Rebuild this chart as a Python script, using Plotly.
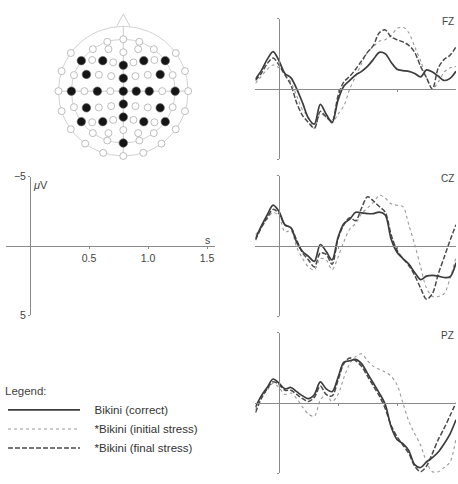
import plotly.graph_objects as go

W, H = 458, 484

# ---------------- data ----------------
time_s = [-0.2, -0.15, -0.1, -0.05, 0.0, 0.05, 0.1, 0.15, 0.2, 0.25, 0.3, 0.35, 0.4, 0.45,
          0.5, 0.55, 0.6, 0.65, 0.7, 0.75, 0.8, 0.85, 0.9, 0.95, 1.0, 1.05, 1.1, 1.15,
          1.2, 1.25, 1.3, 1.35, 1.4, 1.45, 1.5]

fz_correct = [-0.7, -1.3, -2.1, -2.65, -2.0, -1.1, -0.8, 0.0, 1.0, 2.1, 2.5, 1.1, 1.8, 2.4,
              0.8, -0.2, -0.6, -1.0, -1.25, -1.6, -2.1, -2.6, -2.5, -1.9, -1.4, -1.3, -1.25,
              -1.1, -0.85, -1.35, -1.2, -0.9, -0.6, -0.75, -1.25]
fz_initial = [-0.4, -0.9, -1.4, -1.7, -1.5, -1.0, -0.5, 0.5, 1.5, 2.0, 2.8, 1.8, 2.0, 2.4,
              1.8, 1.2, 0.0, -0.9, -1.8, -2.6, -3.0, -3.4, -3.5, -3.8, -4.3, -4.4, -4.0,
              -3.0, -2.0, -0.8, 0.0, -0.5, -1.2, -1.5, -1.6]
fz_final = [-0.6, -1.1, -1.8, -2.2, -1.7, -1.0, -0.3, 1.0, 1.9, 2.4, 2.8, 1.6, 2.0, 2.3,
            0.5, -0.5, -0.9, -1.4, -2.0, -2.6, -3.1, -4.0, -4.2, -3.7, -3.5, -3.35, -3.1,
            -2.6, -1.6, -0.8, 0.0, -1.5, -2.1, -2.4, -3.0]

cz_correct = [-0.5, -1.4, -2.2, -2.9, -2.45, -1.5, -1.3, -0.25, 0.4, 0.75, 1.1, -0.1, 0.4, 1.0,
              -0.6, -1.6, -1.9, -2.4, -2.35, -2.3, -2.3, -2.4, -2.2, -0.5, 0.45, 0.9, 1.3,
              1.9, 2.4, 2.15, 2.1, 2.15, 2.25, 2.2, 1.2]
cz_initial = [-0.8, -1.3, -1.9, -2.4, -2.1, -1.0, -1.1, 0.1, 0.9, 1.5, 1.7, 0.9, 1.0, 1.7,
              0.8, -0.3, -1.2, -1.6, -2.3, -2.7, -3.1, -3.6, -3.4, -3.0, -2.9, -2.8, -1.5,
              -0.1, 1.5, 3.0, 3.6, 3.6, 3.4, 2.3, 0.8]
cz_final = [-0.4, -1.3, -2.0, -2.6, -2.3, -1.5, -1.3, -0.4, 0.5, 1.0, 1.5, 0.5, 0.6, 1.3,
            -0.5, -1.5, -2.0, -1.8, -2.7, -3.5, -3.2, -2.8, -2.4, -0.8, 0.3, 0.9, 1.4,
            2.1, 3.0, 3.8, 3.4, 2.0, 0.8, -0.4, -1.5]

pz_correct = [0.3, -0.5, -1.1, -1.7, -1.4, -1.0, -1.1, -0.8, -0.5, -0.3, -0.6, -1.5, -1.0, -0.8,
              -1.8, -2.9, -3.0, -3.1, -2.8, -2.1, -1.4, -0.7, 0.1, 1.7, 2.6, 2.9, 3.4,
              4.4, 4.6, 4.2, 3.9, 3.5, 2.9, 2.2, 1.2]
pz_initial = [0.5, -0.4, -0.9, -1.4, -1.1, -0.6, -0.7, -0.3, 0.3, 0.8, 0.95, -0.2, -0.6, -0.1,
              -0.6, -1.8, -2.8, -3.3, -3.5, -3.0, -2.6, -2.4, -2.2, -1.9, -1.3, 0.0, 1.3,
              2.2, 3.0, 4.2, 4.9, 4.9, 4.6, 4.2, 2.5]
pz_final = [0.7, -0.3, -1.0, -1.5, -1.3, -0.9, -0.9, -0.6, -0.3, -0.1, -0.4, -1.2, -0.6, -0.5,
            -1.6, -2.8, -3.2, -3.0, -2.6, -1.9, -1.2, -0.5, 0.4, 1.6, 2.4, 3.0, 3.6,
            4.5, 4.9, 4.5, 3.6, 2.6, 1.8, 0.9, 0.0]

channels = ["FZ", "CZ", "PZ"]
series_names = ["Bikini (correct)", "*Bikini (initial stress)", "*Bikini (final stress)"]

# electrode positions: polar angle from vertex (deg) and azimuth from nose (deg, + = right)
open_theta = [72, 72, 72, 72, 72, 61.8, 61.8, 54,
              90, 90, 61.1, 61.1, 42.3, 42.3,
              90, 90, 72, 72, 40.8, 40.8, 26.8, 26.8,
              90, 90, 54, 54, 18,
              90, 90, 72, 72, 40.8, 40.8, 26.8, 26.8,
              90, 90, 61.1, 61.1, 42.3, 42.3,
              90, 90, 72, 72, 61.8, 61.8, 54,
              72, 72, 90, 90, 90]
open_az = [0, -18, 18, -36, 36, -19.5, 19.5, 0,
           -54, 54, -45, 45, -19.4, 19.4,
           -72, 72, -72, 72, -56.3, 56.3, -39, 39,
           -90, 90, -90, 90, -90,
           -108, 108, -108, 108, -123.7, 123.7, -141, 141,
           -126, 126, -135, 135, -160.6, 160.6,
           -144, 144, -144, 144, -160.5, 160.5, 180,
           -162, 162, -162, 162, 180]
active_theta = [72, 51, 36, 51, 72, 56.2, 18, 56.2, 72, 36, 0, 18, 36, 72,
                56.2, 18, 56.2, 72, 51, 36, 51, 72, 72]
active_az = [-54, -33.9, 0, 33.9, 54, -65.6, 0, 65.6, -90, -90, 0, 90, 90, 90,
             -114.4, 180, 114.4, -126, -146.1, 180, 146.1, 126, 180]

# head outline pieces (polar angle, azimuth)
nose_r = [90, 107, 90]
nose_az = [-6, 0, 6]
midline_r = [90, 0, 90]
midline_az = [0, 0, 180]
coronal_r = [90, 0, 90]
coronal_az = [-90, 0, 90]

# ---------------- layout helpers ----------------
def dom_x(a, b):
    return [a / W, b / W]

def dom_y(top, bottom):
    return [1 - bottom / H, 1 - top / H]

panel_top = {"FZ": 13, "CZ": 174, "PZ": 335}
panel_h = 144
styles = [
    dict(color="#3c3c3c", width=1.7, dash="solid"),
    dict(color="#9a9a9a", width=1.1, dash="dot"),
    dict(color="#4a4a4a", width=1.5, dash="5px,2px"),
]
data = {
    "FZ": [fz_correct, fz_initial, fz_final],
    "CZ": [cz_correct, cz_initial, cz_final],
    "PZ": [pz_correct, pz_initial, pz_final],
}

fig = go.Figure()
layout = dict(
    width=W, height=H, margin=dict(l=0, r=0, t=0, b=0),
    paper_bgcolor="white", plot_bgcolor="rgba(0,0,0,0)",
    font=dict(family="Liberation Sans, Arial, sans-serif", color="#333", size=11),
    showlegend=True,
)

axis_col = "#8a8a8a"
x0_px, x1_px = 255.4, 456.0
for i, ch in enumerate(channels, start=1):
    top = panel_top[ch]
    ydom = dom_y(top, top + panel_h)
    xa = "xaxis" if i == 1 else f"xaxis{i}"
    ya = "yaxis" if i == 1 else f"yaxis{i}"
    xr = "x" if i == 1 else f"x{i}"
    yr = "y" if i == 1 else f"y{i}"
    layout[xa] = dict(domain=dom_x(x0_px, x1_px), range=[-0.2, 1.5], anchor="free",
                      position=(ydom[0] + ydom[1]) / 2, showline=True, linecolor=axis_col,
                      linewidth=1, showgrid=False, zeroline=False, ticks="outside",
                      ticklen=2, tickcolor=axis_col, tickvals=[0.5, 1.0],
                      showticklabels=False)
    layout[ya] = dict(domain=ydom, range=[5, -5], anchor="free",
                      position=(279.0) / W, showline=True, linecolor=axis_col,
                      linewidth=1, showgrid=False, zeroline=False, ticks="outside",
                      ticklen=2, tickcolor=axis_col, tickvals=[-5, 5],
                      showticklabels=False)
    # draw order: dotted, dashed, solid on top
    for k in [1, 2, 0]:
        fig.add_trace(go.Scatter(
            x=time_s, y=data[ch][k], mode="lines", xaxis=xr, yaxis=yr,
            line=dict(shape="spline", smoothing=0.9, **styles[k]),
            name="\u00a0\u00a0\u00a0" + series_names[k], legendgroup=series_names[k],
            showlegend=(i == 1), legendrank=k + 1, hoverinfo="skip"))

# scale panel
sc_y = dom_y(175, 317)
layout["xaxis4"] = dict(domain=dom_x(6.4, 215.3), range=[-0.2, 1.57], anchor="free",
                        position=(sc_y[0] + sc_y[1]) / 2, showline=True, linecolor=axis_col,
                        showgrid=False, zeroline=False, ticks="outside", ticklen=2,
                        tickcolor=axis_col, tickvals=[0.5, 1.0, 1.5],
                        ticktext=["0.5", "1.0", "1.5"], tickfont=dict(size=10.5, color="#444"))
layout["yaxis4"] = dict(domain=sc_y, range=[5, -5], anchor="free", position=30 / W,
                        showline=True, linecolor=axis_col, showgrid=False, zeroline=False,
                        ticks="outside", ticklen=2, tickcolor=axis_col, tickvals=[-5, 5],
                        ticktext=["\u22125", "5"], tickfont=dict(size=10.5, color="#444"))
fig.add_trace(go.Scatter(x=[None], y=[None], xaxis="x4", yaxis="y4", showlegend=False,
                         hoverinfo="skip"))

# head map: radial range extends past the head (90 deg) to leave room for the nose
R_MAX = 108
head_px = 66.5 * R_MAX / 90
cx, cy = 123.3, 87.3
layout["polar"] = dict(
    domain=dict(x=dom_x(cx - head_px, cx + head_px), y=dom_y(cy - head_px, cy + head_px)),
    bgcolor="rgba(0,0,0,0)",
    radialaxis=dict(range=[0, R_MAX], showticklabels=False, ticks="", showline=False,
                    tickvals=[72, 90], showgrid=True, gridcolor="#d2d2d2", gridwidth=1),
    angularaxis=dict(rotation=90, direction="clockwise", showticklabels=False, ticks="",
                     showline=False, showgrid=False),
)
for rr, aa in [(midline_r, midline_az), (coronal_r, coronal_az), (nose_r, nose_az)]:
    fig.add_trace(go.Scatterpolar(r=rr, theta=aa, mode="lines",
                                  line=dict(color="#cccccc", width=1),
                                  showlegend=False, hoverinfo="skip"))
fig.add_trace(go.Scatterpolar(r=open_theta, theta=open_az, mode="markers",
                              marker=dict(size=7, color="white",
                                          line=dict(color="#b5b5b5", width=0.9)),
                              showlegend=False, hoverinfo="skip"))
fig.add_trace(go.Scatterpolar(r=active_theta, theta=active_az, mode="markers",
                              marker=dict(size=8.5, color="#151515",
                                          line=dict(color="#666", width=0.6)),
                              showlegend=False, hoverinfo="skip"))

layout["legend"] = dict(
    x=3 / W, y=1 - 384 / H, xanchor="left", yanchor="top",
    title=dict(text="Legend:", font=dict(size=11.5, color="#444")),
    font=dict(size=11.5, color="#333"), itemwidth=72, bgcolor="rgba(0,0,0,0)",
    tracegroupgap=0, traceorder="normal",
)

ann = []
for ch in channels:
    ann.append(dict(x=456 / W, y=1 - (panel_top[ch] + 3) / H, xref="paper", yref="paper",
                    text=ch, showarrow=False, xanchor="right", yanchor="middle",
                    font=dict(size=10, color="#444")))
ann.append(dict(x=1.5, y=-0.45, xref="x4", yref="y4", text="s", showarrow=False,
                xanchor="center", yanchor="middle", font=dict(size=10.5, color="#444")))
ann.append(dict(x=0, y=-4.4, xref="x4", yref="y4", text="<i>\u03bc</i>V", showarrow=False,
                xanchor="left", xshift=1, yanchor="middle", font=dict(size=11, color="#444")))
layout["annotations"] = ann

fig.update_layout(**layout)
fig.write_html("out.html", config={"displayModeBar": False, "staticPlot": True},
               post_script="document.body.style.margin='0';document.body.style.padding='0';")
